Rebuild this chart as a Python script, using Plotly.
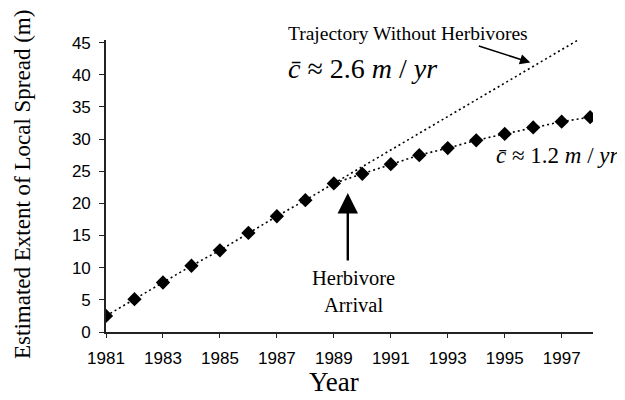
import plotly.graph_objects as go

# --- data ---
years = list(range(1981, 1999))
extent = [2.5, 5.1, 7.7, 10.3, 12.7, 15.4, 18.0, 20.5, 23.1, 24.6,
          26.1, 27.5, 28.6, 29.8, 30.8, 31.8, 32.7, 33.4]

# projected spread at ~2.6 m/yr if herbivores had not arrived
trajectory_years = [1989, 1998]
trajectory_extent = [23.1, 46.5]

x_ticks = [1981, 1983, 1985, 1987, 1989, 1991, 1993, 1995, 1997]
y_ticks = [0, 5, 10, 15, 20, 25, 30, 35, 40, 45]

SERIF = "Liberation Serif, Times New Roman, serif"
SANS = "Liberation Sans, Arial, sans-serif"

# page body has an 8px margin, so the figure is shrunk to fit the window
PAGE_OFF = 8
W, H = 625 - PAGE_OFF, 400 - PAGE_OFF

# plot area in window pixels (for placing free text)
L, R, T, B = 106, 593, 40, 332


def px_x(p):
    return (p - L) / (R - L)


def px_y(p):
    return (B - p) / (B - T)


fig = go.Figure()

fig.add_trace(go.Scatter(
    x=trajectory_years, y=trajectory_extent, mode="lines",
    line=dict(color="black", width=1.6, dash="2px,3px"),
    showlegend=False, hoverinfo="skip"))

fig.add_trace(go.Scatter(
    x=years, y=extent, mode="lines+markers",
    line=dict(color="black", width=1.6, dash="2px,3px"),
    marker=dict(symbol="diamond", size=11, color="black"),
    showlegend=False))

fig.update_layout(
    width=W, height=H,
    margin=dict(l=L - PAGE_OFF, r=625 - R, t=T - PAGE_OFF, b=400 - B),
    plot_bgcolor="white", paper_bgcolor="white",
    font=dict(family=SANS, color="black"),
)

fig.update_xaxes(
    range=[1981, 1998.1], tickvals=x_ticks,
    showgrid=False, zeroline=False,
    showline=True, linecolor="#222", linewidth=1.6,
    ticks="outside", ticklen=4, tickcolor="#222",
    ticklabelstandoff=6,
    tickfont=dict(family=SANS, size=17, color="black"),
)
fig.update_yaxes(
    range=[0, 45.4], tickvals=y_ticks,
    showgrid=False, zeroline=False,
    showline=True, linecolor="#222", linewidth=1.6,
    ticks="outside", ticklen=5, tickcolor="#222",
    ticklabelstandoff=5,
    tickfont=dict(family=SANS, size=17, color="black"),
)

# axis titles
fig.add_annotation(text="Estimated Extent of Local Spread (m)", textangle=-90,
                   xref="paper", yref="paper", x=px_x(22), y=px_y(185),
                   xanchor="center", yanchor="middle", showarrow=False,
                   font=dict(family=SERIF, size=23, color="black"))
fig.add_annotation(text="Year", xref="paper", yref="paper",
                   x=px_x(334), y=px_y(382),
                   xanchor="center", yanchor="middle", showarrow=False,
                   font=dict(family=SERIF, size=27, color="black"))

# labels
fig.add_annotation(text="Trajectory Without Herbivores",
                   xref="paper", yref="paper", x=px_x(286), y=px_y(33),
                   xanchor="left", yanchor="middle", showarrow=False,
                   font=dict(family=SERIF, size=19.5, color="black"))
fig.add_annotation(x=1995.9, y=41.9, ax=-53, ay=-17, text="",
                   showarrow=True, arrowhead=2, arrowsize=1.3,
                   arrowwidth=1.6, arrowcolor="black")

fig.add_annotation(text="<i>c\u0304</i> \u2248 2.6 <i>m</i> / <i>yr</i>",
                   xref="paper", yref="paper", x=px_x(286), y=px_y(68),
                   xanchor="left", yanchor="middle", showarrow=False,
                   font=dict(family=SERIF, size=28, color="black"))
fig.add_annotation(text="<i>c\u0304</i> \u2248 1.2 <i>m</i> / <i>yr</i>",
                   xref="paper", yref="paper", x=px_x(494), y=px_y(155),
                   xanchor="left", yanchor="middle", showarrow=False,
                   font=dict(family=SERIF, size=23, color="black"))

fig.add_annotation(x=1989.49, y=21.6, ax=0, ay=69, text="",
                   showarrow=True, arrowhead=2, arrowsize=1.7,
                   arrowwidth=2.4, arrowcolor="black")
fig.add_annotation(text="Herbivore<br>Arrival",
                   xref="paper", yref="paper", x=px_x(353), y=px_y(291),
                   xanchor="center", yanchor="middle", showarrow=False,
                   align="center",
                   font=dict(family=SERIF, size=20.5, color="black"))

fig.write_html("out.html")
